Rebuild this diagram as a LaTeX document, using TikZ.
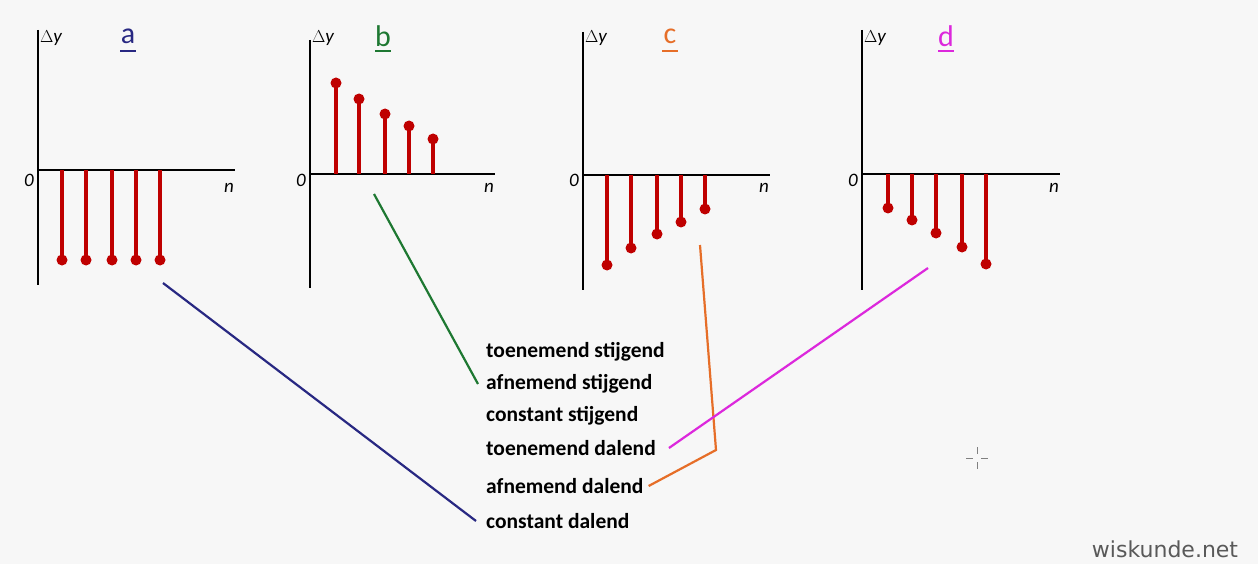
\documentclass[tikz,border=0pt]{standalone}
\usepackage{fontspec}
\setmainfont{Carlito}
\newfontfamily\wfont{DejaVu Sans}
\definecolor{ca}{RGB}{40,40,130}
\definecolor{cb}{RGB}{30,120,50}
\definecolor{cc}{RGB}{230,110,40}
\definecolor{cd}{RGB}{220,40,220}
\begin{document}
\begin{tikzpicture}[x=1pt,y=-1pt,
 ax/.style={line width=2.2pt,black},
 stem/.style={line width=3.4pt,red!75!black},
 dotm/.style={circle,fill=red!75!black,inner sep=0pt,minimum size=11pt},
 lbl/.style={font=\bfseries\fontsize{21.5}{23}\selectfont,anchor=west,inner sep=0pt},
 hand/.style={font=\itshape\fontsize{19}{20}\selectfont,inner sep=0pt},
 conn/.style={line width=2.2pt}]
\fill[gray!6] (0,0) rectangle (1258,564);
\useasboundingbox (0,0) rectangle (1258,564);
% panels
\foreach \ax/\ay/\tp/\bt/\xe/\lx/\cl/\lt in {38/170/30/285/235/128/ca/a, 310/174/40/288/495/383/cb/b, 583/175/32/290/770/670/cc/c, 862/174/30/290/1060/946/cd/d}{
  \draw[ax] (\ax,\tp) -- (\ax,\bt);
  \draw[ax] (\ax,\ay) -- (\xe,\ay);
  \node[hand] at (\ax+13,38) {$\Delta$y};
  \node[hand] at (\ax-9,180) {0};
  \node[hand] at (\xe-6,188) {n};
  \node[font=\fontsize{30}{30}\selectfont,text=\cl,inner sep=0pt] at (\lx,36) {\lt};
  \draw[\cl,line width=2pt] (\lx-8,51) -- (\lx+8,51);
}
\foreach \x in {62,86,112,136,160}{\draw[stem] (\x,170)--(\x,260); \node[dotm] at (\x,260){};}
\foreach \x/\t in {336/83,359/99,385/114,409/126,433/139}{\draw[stem] (\x,174)--(\x,\t); \node[dotm] at (\x,\t){};}
\foreach \x/\t in {607/265,631/248,657/234,681/222,705/209}{\draw[stem] (\x,175)--(\x,\t); \node[dotm] at (\x,\t){};}
\foreach \x/\t in {888/208,912/220,936/233,962/247,986/264}{\draw[stem] (\x,174)--(\x,\t); \node[dotm] at (\x,\t){};}
% labels
\node[lbl] (l1) at (486,352) {toenemend stijgend};
\node[lbl] (l2) at (486,384) {afnemend stijgend};
\node[lbl] (l3) at (486,416) {constant stijgend};
\node[lbl] (l4) at (486,448) {toenemend dalend};
\node[lbl] (l5) at (486,486) {afnemend dalend};
\node[lbl] (l6) at (486,521) {constant dalend};
\coordinate (pa) at (163,283); \coordinate (pb) at (374,194);
\coordinate (pc) at (700,245); \coordinate (pck) at (716,450); \coordinate (pd) at (928,268);
\draw[conn,ca] (pa) -- ([xshift=-10pt]l6.west);
\draw[conn,cb] (pb) -- ([xshift=-8pt]l2.west);
\draw[conn,cc] (pc) -- (pck) -- ([xshift=5pt]l5.east);
\draw[conn,cd] (pd) -- ([xshift=13pt]l4.east);
\draw[gray,line width=0.8pt] (966,458)--(973,458) (981,458)--(988,458) (977,447)--(977,454) (977,462)--(977,469);
\node[font=\wfont\fontsize{22}{24}\selectfont,text=gray!70!black,inner sep=0pt] at (1165,549) {wiskunde.net};
\end{tikzpicture}
\end{document}
